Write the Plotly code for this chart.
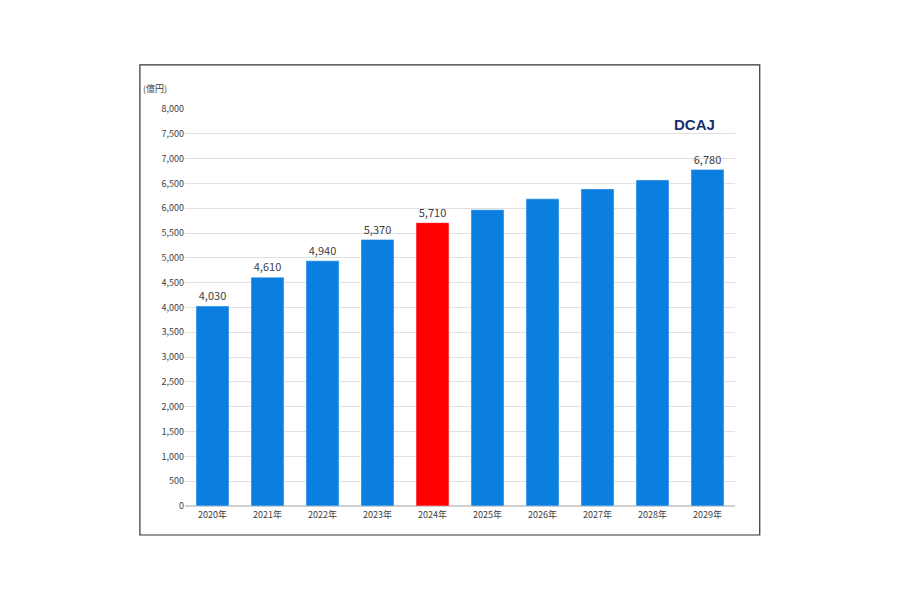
import plotly.graph_objects as go

years = ["2020年", "2021年", "2022年", "2023年", "2024年", "2025年", "2026年", "2027年", "2028年", "2029年"]
values = [4030, 4610, 4940, 5370, 5710, 5970, 6190, 6390, 6570, 6780]
labels = ["4,030", "4,610", "4,940", "5,370", "5,710", "", "", "", "", "6,780"]
colors = ["#0a7fe0"] * 4 + ["#ff0000"] + ["#0a7fe0"] * 5

fig = go.Figure(go.Bar(
    x=years, y=values, marker_color=colors, width=0.6,
    text=labels, textposition="outside", cliponaxis=False,
    textfont=dict(size=11, color="#404040"),
))

fig.update_layout(
    width=900, height=600,
    margin=dict(l=177, r=173, t=101, b=102),
    paper_bgcolor="white", plot_bgcolor="white",
    showlegend=False,
    font=dict(family="Noto Sans CJK JP", size=9, color="#404040"),
    yaxis=dict(range=[0, 8000], dtick=500, tickformat=",", gridcolor="#e0e0e0",
               zeroline=True, zerolinecolor="#d0d0d0", ticks="", ticklen=4),
    xaxis=dict(showline=True, linecolor="#d0d0d0", tickfont=dict(size=9)),
    shapes=[
        dict(type="rect", xref="paper", yref="paper", x0=-0.082, x1=1.045, y0=-0.073, y1=1.111,
             line=dict(color="#333333", width=1.2)),
    ],
    annotations=[
        dict(text="(億円)", xref="paper", yref="paper", x=-0.03, y=1.03, xanchor="right",
             yanchor="bottom", showarrow=False, font=dict(size=9, color="#404040")),
        dict(text="<b>DCAJ</b>", xref="paper", yref="paper", x=0.885, y=0.96, xanchor="left",
             yanchor="middle", showarrow=False, font=dict(size=15, color="#1a2f6e", family="Liberation Sans")),
    ],
)

fig.write_html("out.html")
